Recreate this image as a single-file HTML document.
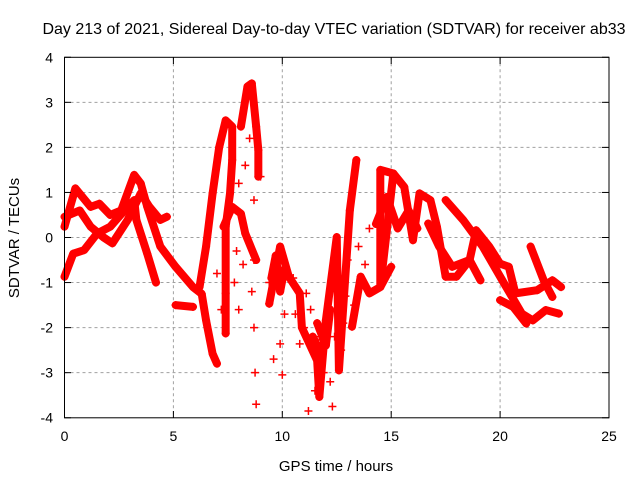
<!DOCTYPE html>
<html><head><meta charset="utf-8"><style>
body{margin:0;background:#fff}
svg{display:block;font-family:"Liberation Sans",sans-serif}
</style></head><body>
<svg id="chart" width="640" height="480" viewBox="0 0 640 480">
<text x="334" y="34" font-size="16" text-anchor="middle">Day 213 of 2021, Sidereal Day-to-day VTEC variation (SDTVAR) for receiver ab33</text>
<text x="336" y="471" font-size="15" text-anchor="middle">GPS time / hours</text>
<text transform="translate(19,238) rotate(-90)" font-size="15" text-anchor="middle">SDTVAR / TECUs</text>
<g id="grid"></g>
<g id="marks"></g>
<rect x="64.5" y="57.3" width="544.5" height="360.5" fill="none" stroke="#000" stroke-width="1"/>
<g id="ticks"></g>
</svg>
<script>
const xTicks=[0,5,10,15,20,25];
const yTicks=[-4,-3,-2,-1,0,1,2,3,4];
const trackA=[[0,0.24],[0.5,1.09],[1.2,0.68],[1.6,0.75],[2.1,0.5],[2.6,0.6],[3.2,1.39],[3.5,1.2],[3.8,0.68],[4.4,-0.2],[5.1,-0.65],[5.9,-1.1],[6.3,-1.25],[6.5,-1.84],[6.8,-2.58],[7.0,-2.8]];
const trackB=[[0,0.46],[0.7,0.6],[1.2,0.24],[1.8,0.0],[2.2,-0.13],[2.9,0.39],[3.5,0.98],[3.9,0.68],[4.4,0.39],[4.7,0.46]];
const trackC=[[0,-0.87],[0.4,-0.36],[0.9,-0.28],[1.5,0.09],[2.1,0.24],[2.9,0.68],[3.2,0.83],[3.3,0.39],[3.8,-0.36],[4.2,-1.0]];
const trackD=[[5.1,-1.5],[5.9,-1.54]];
const trackE=[[6.2,-1.1],[6.5,-0.2],[6.8,0.98],[7.1,2.0],[7.4,2.6],[7.7,2.46],[7.7,1.72],[7.6,0.98],[7.4,0.24],[7.4,-1.24],[7.4,-2.13]];
const trackF=[[7.3,0.24],[7.7,0.68],[8.1,0.53],[8.3,0.09],[8.8,-0.5]];
const trackG=[[8.1,2.46],[8.4,3.35],[8.6,3.42],[8.8,2.46],[8.9,1.94],[8.9,1.35]];
const trackH=[[9.4,-1.47],[9.9,-0.2],[10.3,-0.87],[10.8,-1.24],[10.9,-2.0],[11.6,-2.73],[11.7,-3.54],[12.0,-1.84],[12.5,0.01],[12.6,-2.95],[13.1,0.6],[13.4,1.72]];
const trackI=[[13.2,-1.98],[13.6,-0.87],[14.0,-1.24],[14.5,-1.1],[14.5,1.5],[15.1,1.42],[15.6,1.12],[16.0,-0.06],[16.3,0.98],[16.8,0.83],[17.1,0.24],[17.5,-0.87],[18.0,-0.87],[18.6,-0.5],[19.1,-0.95]];
const trackJ=[[17.5,0.83],[18.3,0.39],[19.2,-0.2],[20.1,-0.95],[21.0,-1.69],[21.5,-1.84],[22.1,-1.61],[22.7,-1.69]];
const trackK=[[16.7,0.31],[17.2,-0.2],[17.8,-0.65],[18.6,-0.5],[18.9,0.16],[19.5,-0.2],[20.0,-0.58],[20.4,-0.65],[20.7,-1.24],[21.7,-1.17],[22.4,-0.95],[22.8,-1.1]];
const trackL=[[21.4,-0.2],[22.0,-0.95],[22.4,-1.32]];
const trackM=[[20.0,-1.39],[20.6,-1.54],[21.2,-1.91]];
const trackN=[[15.0,-0.65],[14.5,-1.1],[15.1,1.42]];
const trackO=[[11.4,-2.2],[11.8,-2.6],[12.2,-1.6],[12.0,-2.4],[11.6,-1.9]];
const trackP=[[9.5,-0.9],[9.7,-0.4],[9.9,-1.2],[10.1,-0.7]];
const trackQ=[[14.3,0.3],[14.8,0.9],[15.3,0.2],[15.8,0.6],[16.2,0.2]];
const scatter=[[8.7,0.83],[8.7,-0.5],[8.7,-2.0],[8.8,-3.7],[8.6,-1.2],[8.75,-3.0],[9.9,-0.28],[9.9,-2.36],[10.3,-0.87],[10.8,-1.24],[11.1,-1.24],[10.8,-2.36],[11.7,-2.2],[11.7,-3.47],[9.0,1.35],[9.4,-1.0],[10.0,-3.05],[11.2,-3.85],[11.5,-3.4],[12.3,-3.75],[9.6,-2.7],[10.1,-1.7],[8.2,-0.6],[8.0,-1.6],[10.5,-0.9],[10.6,-1.7],[11.0,-2.0],[11.3,-1.6],[12.4,-2.2],[12.7,-2.5],[12.9,-1.3],[13.0,-0.5],[13.3,-1.5],[13.5,-0.2],[13.8,-0.6],[14.0,0.2],[7.9,-0.3],[7.8,-1.0],[8.0,1.2],[8.3,1.6],[8.5,2.2],[7.2,-1.6],[7.0,-0.8],[12.8,-1.9],[12.2,-3.2],[11.9,-3.0]];
const tracks=[trackA,trackB,trackC,trackD,trackE,trackF,trackG,trackH,trackI,trackJ,trackK,trackL,trackM,trackN,trackO,trackP,trackQ];
const X=h=>64.5+h*21.78, Y=v=>237.5-v*45.06;
const NS="http://www.w3.org/2000/svg";
const grid=document.getElementById('grid'),ticks=document.getElementById('ticks'),marks=document.getElementById('marks');
function mk(tag,attrs,parent){const e=document.createElementNS(NS,tag);for(const k in attrs)e.setAttribute(k,attrs[k]);parent.appendChild(e);return e;}
xTicks.forEach(t=>{
  if(t>0&&t<25){const g=mk('line',{x1:X(t),x2:X(t),y1:57.3,y2:417.8,stroke:'#a0a0a0','stroke-dasharray':'3,3'},grid);
  
  }
  const l=mk('text',{x:X(t),y:441,'font-size':14,'text-anchor':'middle'},ticks);l.textContent=t;
  
  
  mk('line',{x1:X(t),x2:X(t),y1:417.8,y2:411,stroke:'#000'},ticks);
  mk('line',{x1:X(t),x2:X(t),y1:57.3,y2:64,stroke:'#000'},ticks);
});
yTicks.forEach(t=>{
  if(t>-4&&t<4){const g=mk('line',{x1:64.5,x2:609,y1:Y(t),y2:Y(t),stroke:'#a0a0a0','stroke-dasharray':'3,3'},grid);
  
  }
  const l=mk('text',{x:53,y:Y(t)+5,'font-size':14,'text-anchor':'end'},ticks);l.textContent=t;
  
  
  mk('line',{x1:64.5,x2:71,y1:Y(t),y2:Y(t),stroke:'#000'},ticks);
  mk('line',{x1:609,x2:602,y1:Y(t),y2:Y(t),stroke:'#000'},ticks);
});
function plus(p){const x=X(p[0]),y=Y(p[1]);
  const e=mk('path',{d:`M${x-4},${y}H${x+4}M${x},${y-4}V${y+4}`,stroke:'#f00','stroke-width':1.5,fill:'none'},marks);
  
  }
tracks.forEach(tr=>{
  const pl=mk('polyline',{points:tr.map(p=>X(p[0])+','+Y(p[1])).join(' '),fill:'none',stroke:'#f00','stroke-width':8,'stroke-linejoin':'round','stroke-linecap':'round'},marks);
  
  
  tr.forEach(plus);
});
scatter.forEach(plus);
</script>
</body></html>
